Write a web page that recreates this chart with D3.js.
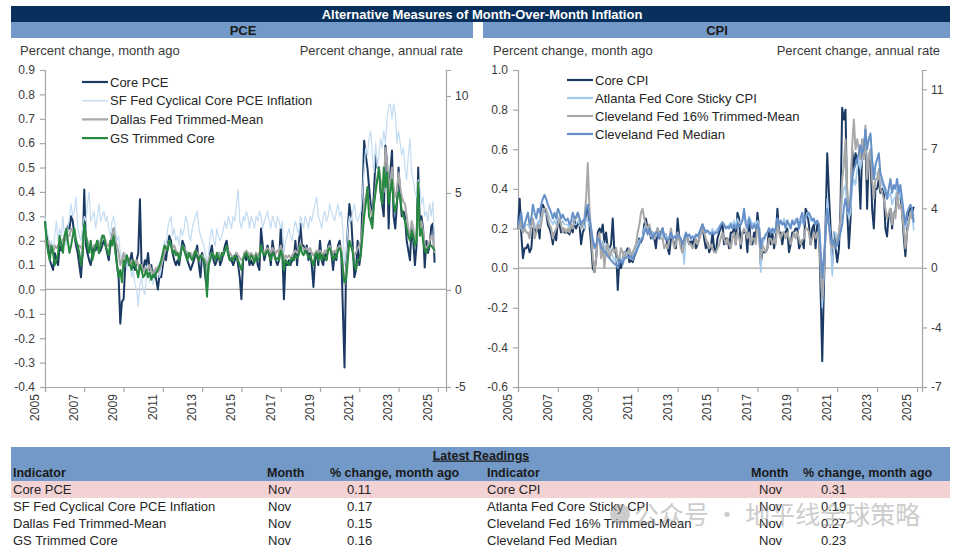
<!DOCTYPE html>
<html><head><meta charset="utf-8">
<script src="https://cdn.jsdelivr.net/npm/d3@7"></script>
<style>body{margin:0;background:#fff}svg{display:block;font-family:"Liberation Sans",Arial,sans-serif}</style>
</head><body><svg id="c" width="960" height="555"></svg>
<script>
// ---------------- DATA ----------------
const startMonth = "2005-01-01";
const nMonths = 239; // Jan 2005 .. Nov 2024

const corePCE = [
 .28,.22,.18,.12,.10,.08,.15,.12,.10,.18,.16,.20,
 .22,.20,.26,.25,.30,.28,.22,.18,.15,.10,.05,.15,
 .41,.18,.15,.12,.10,.15,.18,.16,.20,.15,.16,.18,
 .20,.18,.15,.12,.18,.22,.25,.18,.10,.05,-.14,-.05,
 -.04,.10,.12,.10,.12,.15,.10,.08,.12,.15,.37,.10,
 .08,.12,.10,.15,.08,.10,.05,.08,.04,.00,.06,.05,
 .10,.15,.12,.18,.22,.20,.15,.12,.10,.12,.10,.15,
 .20,.18,.15,.12,.10,.08,.10,.12,.15,.18,.10,.05,
 .15,.12,.05,.00,.10,.15,.18,.12,.10,.12,.15,.10,
 .12,.15,.18,.20,.15,.12,.12,.10,.12,.15,.10,.05,
 -.04,.12,.15,.12,.15,.10,.12,.10,.12,.15,.10,.08,
 .25,.18,.12,.15,.18,.15,.10,.20,.15,.12,.10,.12,
 .25,.15,-.04,.12,.10,.12,.10,.12,.12,.20,.10,.18,
 .27,.18,.18,.15,.18,.12,.15,.10,.01,.12,.15,.10,
 .20,.12,.10,.15,.12,.18,.20,.15,.08,.15,.12,.18,
 .20,.15,-.08,-.32,.10,.25,.35,.30,.18,.05,.08,.20,
 .10,.15,.38,.61,.55,.50,.42,.35,.28,.40,.55,.50,
 .50,.40,.35,.30,.59,.52,.25,.48,.57,.30,.25,.35,
 .50,.38,.30,.32,.30,.20,.16,.12,.25,.20,.10,.18,
 .50,.25,.30,.25,.09,.20,.15,.18,.26,.27,.11
];
const sfFedCyclical = [
 .30,.25,.22,.18,.20,.15,.22,.28,.20,.25,.22,.30,
 .20,.18,.25,.30,.35,.30,.32,.38,.25,.22,.20,.25,
 .30,.28,.35,.40,.28,.30,.32,.25,.30,.35,.28,.30,
 .32,.28,.30,.25,.22,.28,.30,.25,.20,.22,.15,.12,
 .10,.15,.08,.12,.10,.05,.08,.02,.00,-.07,.02,.05,
 .00,-.02,.05,.10,.03,.08,.02,.05,.08,.10,.05,.08,
 .15,.20,.18,.25,.28,.30,.22,.25,.20,.22,.18,.25,
 .22,.25,.30,.28,.22,.20,.25,.28,.30,.32,.25,.22,
 .20,.18,.15,.10,.15,.22,.25,.20,.18,.25,.22,.20,
 .22,.25,.28,.25,.30,.28,.25,.30,.28,.35,.41,.28,
 .25,.30,.28,.32,.30,.25,.30,.28,.25,.30,.28,.32,
 .30,.25,.28,.30,.32,.28,.25,.30,.28,.25,.30,.28,
 .25,.28,.15,.20,.22,.25,.22,.20,.25,.28,.25,.22,
 .30,.28,.25,.30,.28,.25,.30,.28,.32,.35,.38,.30,
 .28,.25,.30,.32,.28,.30,.35,.32,.30,.28,.32,.35,
 .30,.32,.25,.10,.15,.25,.30,.28,.32,.35,.30,.28,
 .30,.32,.40,.50,.58,.55,.62,.65,.55,.48,.60,.50,
 .55,.62,.58,.65,.60,.70,.75,.76,.70,.76,.72,.60,
 .65,.60,.55,.58,.50,.45,.55,.62,.48,.45,.40,.38,
 .45,.42,.35,.38,.30,.32,.28,.35,.30,.36,.17
];
const dallasTrimmed = [
 .20,.18,.20,.18,.15,.15,.18,.17,.18,.20,.18,.20,
 .22,.20,.22,.22,.25,.24,.22,.20,.18,.18,.17,.18,
 .25,.22,.20,.18,.18,.17,.18,.18,.19,.18,.20,.22,
 .22,.20,.18,.18,.20,.22,.25,.20,.18,.15,.10,.12,
 .15,.12,.14,.12,.10,.12,.10,.10,.12,.10,.08,.10,
 .08,.07,.09,.08,.10,.08,.06,.08,.09,.07,.08,.10,
 .12,.15,.17,.18,.20,.18,.17,.18,.16,.15,.14,.16,
 .18,.17,.16,.15,.14,.15,.13,.15,.16,.15,.14,.13,
 .14,.13,.12,.10,.12,.14,.15,.14,.13,.14,.15,.13,
 .14,.15,.16,.17,.16,.15,.14,.13,.14,.15,.14,.13,
 .12,.13,.15,.16,.15,.14,.15,.14,.13,.15,.14,.15,
 .18,.16,.15,.16,.17,.16,.15,.17,.16,.15,.16,.15,
 .18,.16,.12,.14,.13,.14,.13,.14,.15,.16,.15,.16,
 .19,.17,.17,.16,.17,.16,.17,.15,.14,.15,.16,.15,
 .16,.15,.14,.16,.15,.17,.18,.16,.15,.16,.15,.17,
 .18,.17,.10,.02,.08,.15,.20,.18,.16,.14,.15,.17,
 .18,.20,.25,.35,.38,.40,.35,.32,.30,.35,.42,.45,
 .48,.45,.42,.40,.58,.52,.40,.45,.50,.42,.38,.40,
 .48,.42,.38,.36,.35,.30,.25,.22,.28,.25,.20,.22,
 .35,.25,.28,.24,.18,.17,.18,.20,.22,.22,.15
];
const gsTrimmed = [
 .28,.20,.15,.12,.18,.15,.10,.12,.15,.22,.18,.15,
 .22,.25,.20,.15,.18,.22,.25,.20,.18,.15,.10,.14,
 .27,.22,.18,.15,.20,.12,.15,.18,.20,.15,.18,.22,
 .22,.18,.16,.14,.20,.18,.22,.15,.10,.05,.08,.03,
 .12,.10,.14,.12,.10,.08,.12,.10,.08,.05,.10,.08,
 .05,.06,.08,.05,.07,.04,.06,.05,.07,.08,.10,.12,
 .15,.18,.17,.16,.20,.18,.15,.16,.14,.15,.12,.15,
 .18,.16,.14,.12,.15,.13,.12,.14,.16,.13,.12,.14,
 .13,.12,.10,-.03,.10,.12,.15,.14,.12,.15,.13,.12,
 .15,.14,.16,.18,.14,.12,.13,.12,.14,.13,.12,.10,
 .08,.12,.14,.15,.13,.12,.14,.13,.11,.14,.12,.13,
 .18,.15,.14,.15,.16,.14,.12,.15,.14,.12,.13,.12,
 .16,.14,.08,.12,.11,.10,.12,.13,.12,.14,.13,.14,
 .18,.15,.14,.16,.15,.13,.14,.12,.10,.14,.15,.12,
 .15,.12,.14,.13,.12,.16,.17,.15,.12,.14,.13,.16,
 .17,.15,.08,.03,.04,.12,.20,.18,.15,.10,.08,.12,
 .12,.15,.22,.30,.35,.42,.30,.28,.25,.35,.40,.45,
 .50,.40,.35,.50,.42,.48,.35,.40,.45,.35,.32,.36,
 .40,.38,.32,.30,.28,.25,.22,.20,.24,.22,.18,.20,
 .44,.22,.25,.20,.16,.15,.17,.18,.18,.17,.16
];

const coreCPI = [
 .20,.35,.18,.05,.10,.10,.12,.08,.10,.20,.20,.18,
 .22,.15,.30,.32,.30,.28,.22,.20,.17,.12,.18,.14,
 .24,.22,.18,.20,.18,.18,.18,.17,.20,.18,.24,.20,
 .23,.22,.12,.18,.20,.28,.30,.22,.12,.00,-.02,.05,
 .18,.20,.18,.22,.13,.18,.10,.10,.12,.25,.08,.10,
 -.11,.05,.00,.04,.08,.08,.10,.03,.04,.03,.06,.08,
 .12,.15,.13,.15,.22,.25,.20,.20,.15,.18,.15,.10,
 .20,.15,.18,.20,.15,.17,.10,.07,.15,.15,.12,.10,
 .25,.15,.12,.08,.14,.17,.15,.12,.14,.12,.15,.10,
 .12,.15,.18,.22,.15,.10,.13,.08,.10,.18,.10,.08,
 .15,.18,.20,.23,.12,.15,.15,.10,.18,.18,.20,.12,
 .28,.25,.10,.18,.18,.18,.08,.25,.12,.12,.18,.15,
 .28,.20,.02,.08,.08,.08,.10,.20,.12,.18,.10,.15,
 .30,.18,.18,.12,.18,.18,.20,.08,.12,.18,.18,.20,
 .20,.10,.12,.14,.10,.30,.28,.22,.12,.20,.22,.10,
 .22,.22,-.10,-.47,-.10,.22,.58,.38,.20,.02,.18,.10,
 .03,.10,.30,.81,.75,.80,.30,.10,.25,.60,.50,.58,
 .55,.50,.30,.58,.60,.68,.30,.57,.58,.30,.20,.40,
 .40,.45,.38,.40,.40,.20,.16,.27,.30,.20,.28,.28,
 .39,.36,.36,.29,.16,.06,.19,.28,.31,.28,.31
];
const atlantaSticky = [
 .20,.22,.20,.18,.20,.22,.22,.20,.22,.25,.22,.20,
 .24,.22,.26,.30,.28,.27,.28,.25,.24,.22,.24,.22,
 .26,.24,.22,.24,.22,.22,.22,.20,.22,.24,.22,.22,
 .24,.22,.20,.22,.20,.25,.24,.22,.20,.15,.12,.12,
 .15,.14,.12,.14,.10,.12,.08,.10,.08,.06,.04,.05,
 .02,.03,.05,.04,.08,.06,.08,.07,.08,.06,.08,.10,
 .12,.14,.15,.16,.20,.22,.18,.20,.16,.18,.15,.16,
 .18,.16,.18,.17,.15,.17,.15,.16,.17,.15,.16,.15,
 .18,.16,.14,.12,.02,.15,.16,.17,.14,.16,.15,.16,
 .17,.18,.20,.22,.20,.18,.19,.17,.18,.20,.18,.19,
 .20,.21,.22,.23,.22,.21,.20,.22,.23,.22,.24,.21,
 .25,.23,.22,.24,.26,.24,.23,.26,.24,.22,.23,.22,
 .24,.22,-.02,.12,.14,.16,.18,.20,.19,.18,.20,.18,
 .25,.22,.24,.22,.25,.23,.24,.22,.22,.24,.23,.25,
 .24,.20,.22,.24,.22,.26,.28,.26,.24,.25,.23,.22,
 .24,.22,.05,-.20,-.05,.20,.35,.25,.15,-.04,.18,.18,
 .12,.15,.22,.35,.40,.42,.30,.25,.28,.40,.45,.42,
 .50,.55,.50,.55,.58,.62,.55,.58,.60,.55,.45,.48,
 .48,.45,.45,.42,.40,.38,.35,.36,.38,.32,.35,.36,
 .40,.35,.38,.32,.25,.20,.22,.25,.28,.30,.19
];
const clevelandTrimmed = [
 .22,.20,.25,.18,.20,.18,.18,.15,.22,.25,.15,.18,
 .22,.20,.22,.28,.30,.30,.25,.22,.20,.15,.18,.20,
 .22,.25,.22,.18,.20,.18,.20,.18,.22,.20,.25,.25,
 .28,.25,.20,.22,.25,.35,.53,.30,.18,.05,-.02,.05,
 .15,.18,.05,.12,.00,.10,.12,.05,.08,.10,.08,.10,
 .05,.05,.10,.08,.05,.08,.08,.10,.06,.08,.10,.12,
 .18,.22,.28,.30,.25,.22,.20,.22,.18,.15,.15,.18,
 .20,.18,.15,.15,.10,.12,.10,.15,.20,.15,.10,.12,
 .18,.15,.10,.08,.12,.15,.15,.12,.12,.10,.12,.15,
 .12,.15,.18,.20,.18,.15,.12,.10,.12,.10,.08,.08,
 .10,.12,.15,.18,.15,.12,.15,.12,.10,.15,.18,.12,
 .18,.15,.12,.18,.20,.18,.15,.18,.12,.15,.15,.12,
 .22,.18,.05,.12,.10,.08,.10,.15,.15,.12,.15,.12,
 .22,.18,.15,.18,.18,.15,.18,.15,.12,.15,.18,.15,
 .18,.15,.12,.14,.15,.20,.20,.18,.12,.15,.18,.15,
 .18,.15,.00,-.15,.00,.18,.28,.22,.12,.10,.12,.10,
 .15,.18,.25,.45,.52,.65,.40,.30,.35,.62,.75,.60,
 .65,.60,.55,.65,.55,.72,.45,.55,.60,.45,.35,.45,
 .45,.50,.40,.38,.35,.30,.25,.28,.30,.22,.28,.25,
 .38,.30,.32,.28,.20,.10,.18,.22,.28,.25,.27
];
const clevelandMedian = [
 .22,.25,.28,.20,.22,.25,.28,.22,.25,.32,.28,.25,
 .30,.28,.32,.35,.37,.35,.32,.30,.28,.25,.28,.25,
 .30,.28,.25,.27,.25,.24,.25,.22,.24,.28,.25,.26,
 .28,.25,.22,.24,.24,.30,.32,.25,.20,.14,.10,.12,
 .15,.14,.10,.10,.08,.08,.06,.05,.04,.03,.02,.02,
 .00,.03,.04,.02,.05,.05,.06,.05,.06,.04,.07,.08,
 .10,.12,.14,.15,.18,.20,.17,.20,.18,.15,.17,.18,
 .18,.15,.18,.20,.16,.15,.14,.15,.18,.15,.16,.15,
 .17,.16,.15,.12,.15,.18,.16,.17,.15,.16,.15,.17,
 .16,.18,.20,.22,.20,.18,.19,.18,.17,.18,.17,.18,
 .18,.20,.22,.23,.22,.20,.21,.20,.22,.20,.22,.20,
 .22,.21,.22,.24,.30,.22,.20,.25,.22,.20,.22,.20,
 .22,.20,.10,.15,.15,.17,.18,.20,.18,.20,.18,.20,
 .25,.22,.24,.22,.23,.20,.24,.22,.20,.24,.22,.23,
 .25,.20,.25,.28,.22,.26,.27,.28,.26,.24,.25,.22,
 .24,.22,.10,-.05,.05,.18,.30,.22,.15,.12,.14,.10,
 .12,.15,.18,.22,.30,.35,.30,.28,.35,.45,.50,.52,
 .55,.58,.62,.58,.60,.70,.60,.65,.68,.55,.45,.52,
 .55,.58,.48,.45,.42,.40,.35,.40,.45,.38,.42,.40,
 .45,.38,.42,.35,.28,.22,.28,.30,.32,.30,.23
];

const pceLegend = ["Core PCE","SF Fed Cyclical Core PCE Inflation","Dallas Fed Trimmed-Mean","GS Trimmed Core"];
const cpiLegend = ["Core CPI","Atlanta Fed Core Sticky CPI","Cleveland Fed 16% Trimmed-Mean","Cleveland Fed Median"];

const pceLeftTicks = [-0.4,-0.3,-0.2,-0.1,0,0.1,0.2,0.3,0.4,0.5,0.6,0.7,0.8,0.9];
const pceRightTicks = [-5,0,5,10];
const cpiLeftTicks = [-0.6,-0.4,-0.2,0,0.2,0.4,0.6,0.8,1.0];
const cpiRightTicks = [-7.4,-3.7,0,3.7,7.4,11.1];
const xTickYears = [2005,2007,2009,2011,2013,2015,2017,2019,2021,2023,2025];

const tableHeaders = ["Indicator","Month","% change, month ago"];
const leftIndicators = ["Core PCE","SF Fed Cyclical Core PCE Inflation","Dallas Fed Trimmed-Mean","GS Trimmed Core"];
const leftMonths = ["Nov","Nov","Nov","Nov"];
const leftValues = [0.11,0.17,0.15,0.16];
const rightIndicators = ["Core CPI","Atlanta Fed Core Sticky CPI","Cleveland Fed 16% Trimmed-Mean","Cleveland Fed Median"];
const rightMonths = ["Nov","Nov","Nov","Nov"];
const rightValues = [0.31,0.19,0.27,0.23];

// ---------------- DRAW ----------------
const svg = d3.select("#c");
const loc = d3.formatLocale({decimal:".",thousands:",",grouping:[3],currency:["$",""],minus:"-"});
const f1 = loc.format(".1f"), f0 = loc.format(".0f"), f2 = loc.format(".2f");
const dates = d3.timeMonth.range(new Date(2005,0,1), new Date(2005,0+nMonths,1));

const C = {navy:"#07305c", band:"#7299c8", txt:"#3a3a3a", axis:"#a6a6a6", pink:"#f3d2d4"};

// Title bars
svg.append("rect").attr("x",11).attr("y",6).attr("width",939).attr("height",16).attr("fill",C.navy);
svg.append("text").attr("x",482).attr("y",18.5).attr("text-anchor","middle").attr("fill","#fff")
  .attr("font-weight","bold").attr("font-size",13).text("Alternative Measures of Month-Over-Month Inflation");
svg.append("rect").attr("x",11).attr("y",22).attr("width",462).attr("height",16).attr("fill",C.band);
svg.append("rect").attr("x",483).attr("y",22).attr("width",467).attr("height",16).attr("fill",C.band);
svg.append("text").attr("x",243).attr("y",35).attr("text-anchor","middle").attr("font-weight","bold").attr("font-size",13).attr("fill","#1a1a1a").text("PCE");
svg.append("text").attr("x",717).attr("y",35).attr("text-anchor","middle").attr("font-weight","bold").attr("font-size",13).attr("fill","#1a1a1a").text("CPI");

function panel(o){
  const g = svg.append("g");
  const x = d3.scaleTime().domain([new Date(2005,0,1), o.xEnd]).range([o.x0, o.x1]);
  const y = d3.scaleLinear().domain(o.yDom).range([387,70]);
  const y2 = d3.scaleLinear().domain(o.y2Dom).range([387,70]);
  g.append("text").attr("x",o.x0-25).attr("y",54.5).attr("font-size",13).attr("fill",C.txt).text("Percent change, month ago");
  g.append("text").attr("x",o.subR).attr("y",54.5).attr("text-anchor","end").attr("font-size",13).attr("fill",C.txt).text("Percent change, annual rate");
  g.append("line").attr("x1",o.x0).attr("x2",o.x1).attr("y1",y(0)).attr("y2",y(0)).attr("stroke",C.axis).attr("stroke-width",1.2);
  const ax = g.append("g").attr("transform",`translate(${o.x0},0)`)
    .call(d3.axisLeft(y).tickValues(o.yTicks).tickFormat(o.yFmt).tickSizeOuter(0).tickSize(5).tickPadding(5));
  const ax2 = g.append("g").attr("transform",`translate(${o.x1},0)`)
    .call(d3.axisRight(y2).tickValues(o.y2Ticks).tickFormat(v=>f0(v)).tickSizeOuter(0).tickSize(5).tickPadding(4));
  const axx = g.append("g").attr("transform",`translate(0,387)`)
    .call(d3.axisBottom(x).tickValues(xTickYears.map(yy=>new Date(yy,0,1))).tickFormat(d3.timeFormat("%Y")).tickSizeOuter(0).tickSize(5));
  axx.selectAll("text").attr("transform","rotate(-90)").attr("text-anchor","end").attr("dx","-0.35em").attr("dy","-0.55em").attr("y",0).attr("x",-3);
  [ax,ax2,axx].forEach(a=>{
    a.selectAll(".domain").attr("stroke",C.axis).attr("stroke-width",1.2);
    a.selectAll(".tick line").attr("stroke",C.axis).attr("stroke-width",1.2);
    a.selectAll("text").attr("font-size",12).attr("fill",C.txt).attr("font-family",'"Liberation Sans",Arial,sans-serif');
  });
  const line = d3.line().x((d,i)=>x(dates[i])).y(d=>y(d));
  o.series.forEach(s=>{
    g.append("path").datum(s.values).attr("d",line).attr("fill","none")
      .attr("stroke",s.color).attr("stroke-width",s.w).attr("stroke-linejoin","round");
  });
  o.series.forEach((s,i)=>{
    const yy = o.legY + i*o.legDy;
    g.append("line").attr("x1",o.legX).attr("x2",o.legX+26).attr("y1",yy).attr("y2",yy).attr("stroke",s.color).attr("stroke-width",s.w<1.5?1.5:2.2);
    g.append("text").attr("x",o.legX+28).attr("y",yy+4.5).attr("font-size",13).attr("fill","#262626").text(s.name);
  });
}

panel({x0:45, x1:446, xEnd:new Date(2025,5,1), yDom:[-0.4,0.9], y2Dom:[-5,11.34],
  yTicks:pceLeftTicks, y2Ticks:pceRightTicks, yFmt:v=>f1(v), subR:463,
  legX:82, legY:82, legDy:18.7,
  series:[
    {name:pceLegend[0], values:corePCE, color:"#1b3a63", w:2},
    {name:pceLegend[1], values:sfFedCyclical, color:"#c4dcf2", w:1.2},
    {name:pceLegend[2], values:dallasTrimmed, color:"#a8a8a8", w:2},
    {name:pceLegend[3], values:gsTrimmed, color:"#26893f", w:2}
  ]});

panel({x0:518, x1:922, xEnd:new Date(2025,3,1), yDom:[-0.6,1.0], y2Dom:[-7.4,12.3],
  yTicks:cpiLeftTicks, y2Ticks:cpiRightTicks, yFmt:v=>f1(v), subR:940,
  legX:567, legY:80, legDy:18,
  series:[
    {name:cpiLegend[0], values:coreCPI, color:"#1b3a63", w:2},
    {name:cpiLegend[1], values:atlantaSticky, color:"#a4caec", w:1.6},
    {name:cpiLegend[2], values:clevelandTrimmed, color:"#a8a8a8", w:2},
    {name:cpiLegend[3], values:clevelandMedian, color:"#6690c8", w:2}
  ]});

// ---------------- TABLE ----------------
svg.append("rect").attr("x",11).attr("y",447).attr("width",939).attr("height",34).attr("fill",C.band);
svg.append("rect").attr("x",11).attr("y",481).attr("width",939).attr("height",17).attr("fill",C.pink);
svg.append("text").attr("x",481).attr("y",459.5).attr("text-anchor","middle").attr("font-weight","bold")
  .attr("font-size",12.5).attr("fill","#1a1a1a").attr("text-decoration","underline").text("Latest Readings");
const cols = [
  {ind:13, mon:267, val:330, valTx:347, indicators:leftIndicators, months:leftMonths, values:leftValues, monTx:268},
  {ind:487, mon:751, val:803, valTx:821, indicators:rightIndicators, months:rightMonths, values:rightValues, monTx:759}
];
cols.forEach(c=>{
  [[c.ind,tableHeaders[0]],[c.mon,tableHeaders[1]],[c.val,tableHeaders[2]]].forEach(([xx,t])=>{
    svg.append("text").attr("x",xx).attr("y",477).attr("font-weight","bold").attr("font-size",12.5).attr("fill","#1a1a1a").text(t);
  });
  c.indicators.forEach((t,i)=>{
    const yy = 494 + i*17;
    svg.append("text").attr("x",c.ind).attr("y",yy).attr("font-size",13).attr("fill","#262626").text(t);
    svg.append("text").attr("x",c.monTx).attr("y",yy).attr("font-size",13).attr("fill","#262626").text(c.months[i]);
    svg.append("text").attr("x",c.valTx).attr("y",yy).attr("font-size",13).attr("fill","#262626").text(f2(c.values[i]));
  });
});

// watermark overlay (present in the reference image)
const wm = svg.append("g").attr("opacity",0.5);
wm.append("circle").attr("cx",620).attr("cy",514).attr("r",10).attr("fill","#9a9a9a");
wm.append("text").attr("x",634).attr("y",524).attr("font-size",25).attr("fill","#9a9a9a")
  .attr("font-family",'"Noto Sans CJK SC",sans-serif').text("公众号 · 地平线全球策略");
</script></body></html>
